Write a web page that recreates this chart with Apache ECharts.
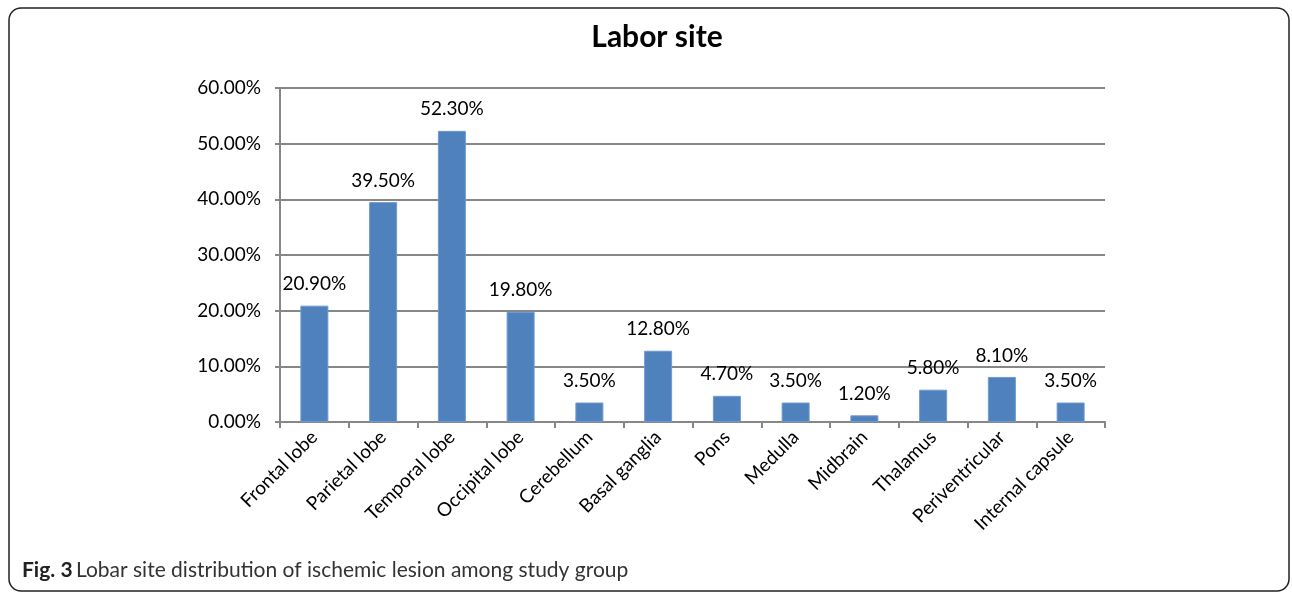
<!DOCTYPE html>
<html>
<head>
<meta charset="utf-8">
<script src="https://cdn.jsdelivr.net/npm/echarts@6/dist/echarts.min.js"></script>
<style>
  html, body { margin: 0; padding: 0; background: #fff; }
  #chart { width: 1292px; height: 592px; }
</style>
</head>
<body>
<div id="chart"></div>
<script>
// Lesion sites and the share of patients with a lesion at each site (%)
const categories = ['Frontal lobe', 'Parietal lobe', 'Temporal lobe', 'Occipital lobe', 'Cerebellum',
  'Basal ganglia', 'Pons', 'Medulla', 'Midbrain', 'Thalamus', 'Periventricular', 'Internal capsule'];
const percentages = [20.9, 39.5, 52.3, 19.8, 3.5, 12.8, 4.7, 3.5, 1.2, 5.8, 8.1, 3.5];
const yTicks = { min: 0, max: 60, interval: 10 };

const chart = echarts.init(document.getElementById('chart'), null, { renderer: 'canvas' });
const FONT = 'Lato, "Open Sans", sans-serif';

chart.setOption({
  animation: false,
  backgroundColor: '#fff',
  title: {
    text: 'Labor site',
    left: 652,
    top: 17,
    textAlign: 'center',
    textStyle: { fontFamily: FONT, fontWeight: 'bold', fontSize: 30, color: '#000' }
  },
  grid: { left: 280, right: 187, top: 88, bottom: 170, containLabel: false },
  xAxis: {
    type: 'category',
    data: categories,
    axisLine: { lineStyle: { color: '#878787', width: 2 } },
    axisTick: { show: true, length: 6, lineStyle: { color: '#878787', width: 2 } },
    axisLabel: { rotate: 45, fontFamily: FONT, fontSize: 19, color: '#000', margin: 12, interval: 0 }
  },
  yAxis: {
    type: 'value',
    min: yTicks.min,
    max: yTicks.max,
    interval: yTicks.interval,
    axisLine: { show: true, lineStyle: { color: '#878787', width: 2 } },
    axisTick: { show: true, length: 5, lineStyle: { color: '#878787', width: 2 } },
    splitLine: { lineStyle: { color: '#878787', width: 2 } },
    axisLabel: {
      fontFamily: FONT, fontSize: 19, color: '#000', margin: 19,
      formatter: v => v.toFixed(2) + '%'
    }
  },
  series: [{
    type: 'bar',
    data: percentages,
    barWidth: 28,
    itemStyle: { color: '#4f81bd', borderColor: '#6f9ad0', borderWidth: 1 },
    label: {
      show: true,
      position: 'top',
      distance: 12,
      fontFamily: FONT,
      fontSize: 19,
      color: '#000',
      formatter: p => p.value.toFixed(2) + '%'
    }
  }],
  graphic: [
    {
      type: 'rect',
      shape: { x: 9, y: 8, width: 1280, height: 583, r: 12 },
      style: { fill: 'none', stroke: '#222', lineWidth: 1.5 },
      silent: true
    },
    {
      type: 'text',
      left: 22,
      top: 560,
      style: {
        rich: {
          b: { fontFamily: FONT, fontWeight: 'bold', fontSize: 21, fill: '#222' },
          n: { fontFamily: FONT, fontSize: 21, fill: '#333' }
        },
        text: '{b|Fig. 3} {n|Lobar site distribution of ischemic lesion among study group}'
      }
    }
  ]
});
</script>
</body>
</html>
